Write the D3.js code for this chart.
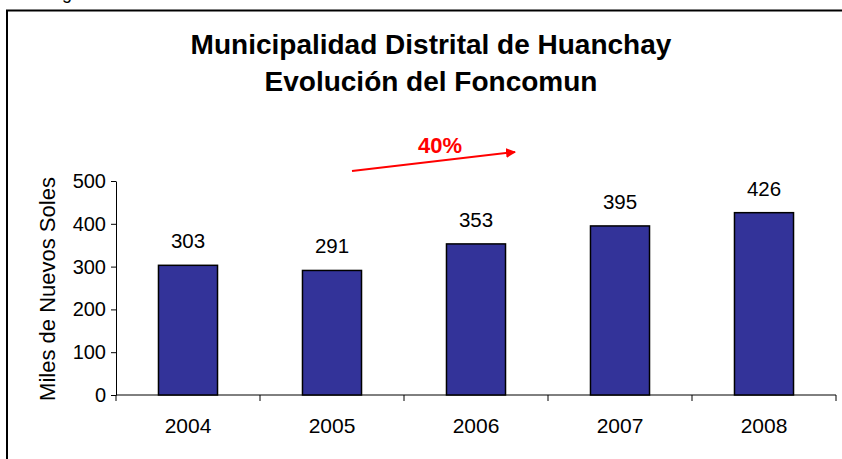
<!DOCTYPE html>
<html><head><meta charset="utf-8">
<script src="https://cdn.jsdelivr.net/npm/d3@7"></script>
<style>body{margin:0;background:#fff}svg{display:block}text{font-family:Arial,"Liberation Sans",sans-serif}</style>
</head><body><svg id="c" width="842" height="459"></svg>
<script>
const categories = ["2004","2005","2006","2007","2008"];
const values = [303,291,353,395,426];
const yTicks = [0,100,200,300,400,500];
const titleLines = ["Municipalidad Distrital de Huanchay","Evolución del Foncomun"];
const growthLabel = "40%";
const yTitle = "Miles de Nuevos Soles";

const svg = d3.select("#c");
svg.append("rect").attr("x",7).attr("y",10.5).attr("width",900).attr("height",500)
  .attr("fill","none").attr("stroke","#000").attr("stroke-width",2);
svg.append("text").attr("x",62).attr("y",-1.5).attr("font-size",18).text("g");

const x = d3.scaleBand().domain(categories).range([116,836]).paddingInner(0.59).paddingOuter(0.295);
const y = d3.scaleLinear().domain([0,500]).range([395,181]);

// title
svg.append("g").selectAll("text").data(titleLines).join("text")
  .attr("x",431).attr("y",(d,i)=>54+i*37).attr("text-anchor","middle")
  .attr("font-weight","bold").attr("font-size",28).text(d=>d);

// axes
const ya = svg.append("g").attr("transform","translate(116,0)")
  .call(d3.axisLeft(y).tickValues(yTicks).tickSize(5).tickSizeOuter(0));
ya.selectAll("text").attr("font-size",20).attr("fill","#000").attr("dx",-2);
ya.selectAll("line,path").attr("stroke","#000");

const xb = d3.scaleLinear().domain([0,5]).range([116,836]);
const xa = svg.append("g").attr("transform","translate(0,395)");
xa.append("line").attr("x1",116).attr("x2",836).attr("y1",0).attr("y2",0).attr("stroke","#000");
xa.selectAll("line.t").data(d3.range(6)).join("line").attr("class","t")
  .attr("x1",d=>xb(d)).attr("x2",d=>xb(d)).attr("y1",0).attr("y2",6).attr("stroke","#000");
xa.selectAll("text").data(categories).join("text")
  .attr("x",d=>x(d)+x.bandwidth()/2).attr("y",38).attr("text-anchor","middle")
  .attr("font-size",21).text(d=>d);

// bars
svg.append("g").selectAll("rect").data(values).join("rect")
  .attr("x",(d,i)=>x(categories[i])).attr("width",x.bandwidth())
  .attr("y",d=>y(d)).attr("height",d=>y(0)-y(d))
  .attr("fill","#333399").attr("stroke","#000").attr("stroke-width",1.5);
svg.append("g").selectAll("text").data(values).join("text")
  .attr("x",(d,i)=>x(categories[i])+x.bandwidth()/2).attr("y",d=>y(d)-17)
  .attr("text-anchor","middle").attr("font-size",20.5).text(d=>d);

// y title
svg.append("text").attr("transform","translate(55,289) rotate(-90)")
  .attr("text-anchor","middle").attr("font-size",22).text(yTitle);

// arrow
const defs = svg.append("defs");
defs.append("marker").attr("id","ah").attr("viewBox","0 0 10 10").attr("refX",9).attr("refY",5)
  .attr("markerWidth",5).attr("markerHeight",5).attr("orient","auto")
  .append("path").attr("d","M0,0L10,5L0,10z").attr("fill","#ff0000");
svg.append("line").attr("x1",352).attr("y1",171).attr("x2",515).attr("y2",152)
  .attr("stroke","#ff0000").attr("stroke-width",2).attr("marker-end","url(#ah)");
svg.append("text").attr("x",440).attr("y",153).attr("text-anchor","middle")
  .attr("font-weight","bold").attr("font-size",22).attr("fill","#ff0000").text(growthLabel);
</script></body></html>
